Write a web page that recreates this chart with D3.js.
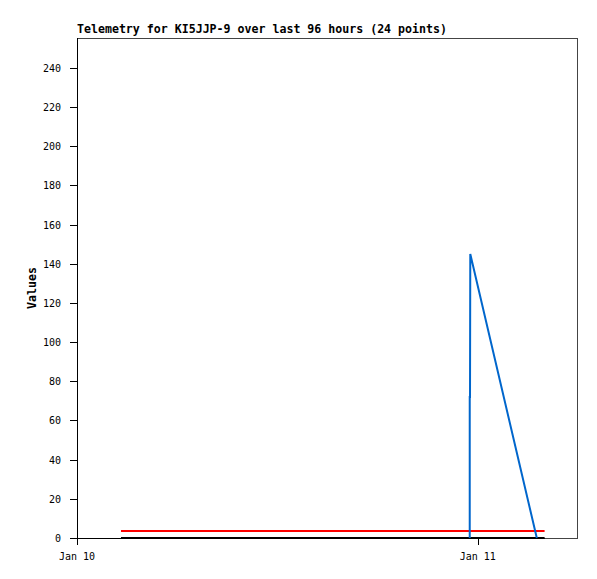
<!DOCTYPE html>
<meta charset="utf-8">
<style>
body { margin: 0; background: #fff; }
text { font-family: "DejaVu Sans Mono", monospace; font-size: 10px; fill: #000; }
.title { font-weight: bold; font-size: 11.6px; }
.ylabel { font-weight: bold; font-size: 11.6px; }
</style>
<svg id="chart" width="597" height="579"></svg>
<script src="https://cdn.jsdelivr.net/npm/d3@7"></script>
<script>

// series data
var flatTimes = ["2024-01-10T02:38", "2024-01-11T04:00"];
var blackValues = [0, 0];
var redValues = [3.6, 3.6];
var blueTimes = ["2024-01-10T23:31", "2024-01-10T23:31", "2024-01-10T23:32", "2024-01-10T23:33", "2024-01-11T03:32"];
var blueValues = [0, 72, 72, 145, 0];
var yTicks = [0, 20, 40, 60, 80, 100, 120, 140, 160, 180, 200, 220, 240];
var xTicks = ["2024-01-10T00:00", "2024-01-11T00:00"];
var xTickLabels = ["Jan 10", "Jan 11"];

var parse = d3.timeParse("%Y-%m-%dT%H:%M");

var svg = d3.select("#chart"),
    pLeft = 77, pRight = 577, pTop = 38, pBottom = 538;

var x = d3.scaleTime()
    .domain([parse("2024-01-10T00:00"), parse("2024-01-11T06:00")])
    .range([pLeft, pRight + 1]);
var y = d3.scaleLinear()
    .domain([0, 255.3])
    .range([pBottom, pTop]);

// frame
svg.append("rect")
    .attr("x", pLeft + 0.5).attr("y", pTop + 0.5)
    .attr("width", pRight - pLeft).attr("height", pBottom - pTop)
    .attr("fill", "none").attr("stroke", "#444");

var line = d3.line()
    .x(function(d) { return x(d[0]); })
    .y(function(d) { return y(d[1]); });

function pts(times, vals) {
  return times.map(function(t, i) { return [parse(t), vals[i]]; });
}

// axes
svg.append("line")
    .attr("x1", pLeft + 0.5).attr("x2", pLeft + 0.5)
    .attr("y1", pTop).attr("y2", pBottom + 7)
    .attr("stroke", "#000");
svg.append("line")
    .attr("x1", pLeft).attr("x2", x(parse(flatTimes[1])))
    .attr("y1", pBottom + 0.5).attr("y2", pBottom + 0.5)
    .attr("stroke", "#000");

svg.selectAll(".ytick").data(yTicks).enter().append("line")
    .attr("x1", pLeft - 7).attr("x2", pLeft)
    .attr("y1", function(d) { return Math.round(y(d)) + 0.5; })
    .attr("y2", function(d) { return Math.round(y(d)) + 0.5; })
    .attr("stroke", "#000");
svg.selectAll(".ylab").data(yTicks).enter().append("text")
    .attr("x", pLeft - 16)
    .attr("y", function(d) { return Math.round(y(d)) + 4; })
    .attr("text-anchor", "end")
    .text(function(d) { return d; });

svg.selectAll(".xtick").data(xTicks).enter().append("line")
    .attr("x1", function(d) { return Math.round(x(parse(d))) + 0.5; })
    .attr("x2", function(d) { return Math.round(x(parse(d))) + 0.5; })
    .attr("y1", pBottom).attr("y2", pBottom + 7)
    .attr("stroke", "#000");
svg.selectAll(".xlab").data(xTicks).enter().append("text")
    .attr("x", function(d) { return x(parse(d)); })
    .attr("y", pBottom + 22)
    .attr("text-anchor", "middle")
    .text(function(d, i) { return xTickLabels[i]; });

// series
svg.append("path").datum(pts(flatTimes, blackValues))
    .attr("d", line).attr("fill", "none").attr("stroke", "#000").attr("stroke-width", 2);
svg.append("path").datum(pts(flatTimes, redValues))
    .attr("d", line).attr("fill", "none").attr("stroke", "#ff0000").attr("stroke-width", 2);
svg.append("path").datum(pts(blueTimes, blueValues))
    .attr("d", line).attr("fill", "none").attr("stroke", "#0066cc").attr("stroke-width", 2);

// labels
svg.append("text").attr("class", "title")
    .attr("x", pLeft).attr("y", pTop - 5)
    .text("Telemetry for KI5JJP-9 over last 96 hours (24 points)");
svg.append("text").attr("class", "ylabel")
    .attr("transform", "translate(36," + ((pTop + pBottom) / 2) + ") rotate(-90)")
    .attr("text-anchor", "middle")
    .text("Values");

</script>
